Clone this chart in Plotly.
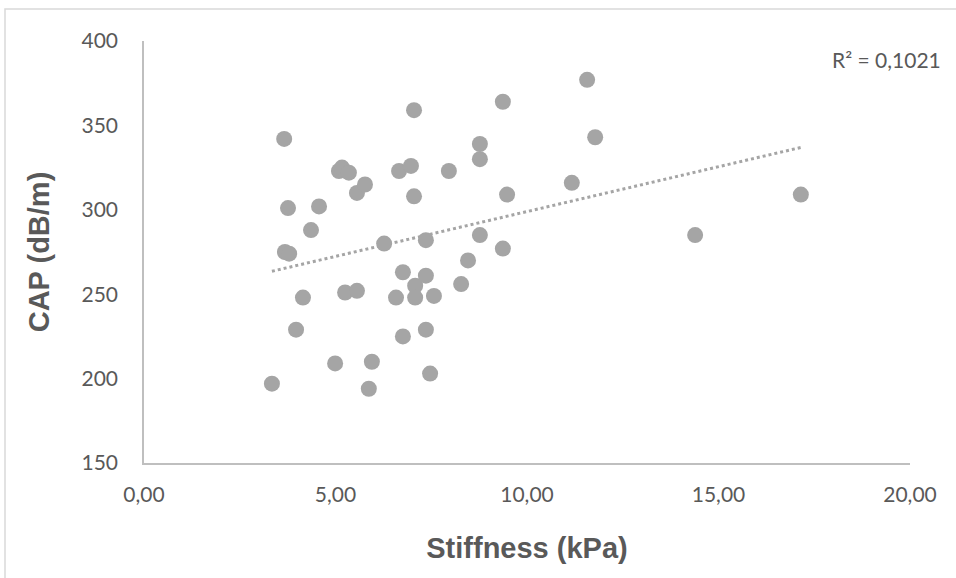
import numpy as np
import plotly.graph_objects as go

stiffness = [3.34, 3.66, 3.68, 3.79, 3.76, 4.15, 3.97, 4.36, 4.57, 4.99,
             5.09, 5.17, 5.35, 5.25, 5.56, 5.56, 5.77, 5.87, 5.95, 6.27,
             6.58, 6.66, 6.76, 6.76, 6.97, 7.05, 7.05, 7.08, 7.08, 7.36,
             7.36, 7.36, 7.47, 7.57, 7.96, 8.28, 8.46, 8.77, 8.77, 8.77,
             9.37, 9.37, 9.48, 11.17, 11.57, 11.78, 14.39, 17.15]
cap = [197, 342, 275, 274, 301, 248, 229, 288, 302, 209,
       323, 325, 322, 251, 252, 310, 315, 194, 210, 280,
       248, 323, 263, 225, 326, 359, 308, 255, 248, 282,
       261, 229, 203, 249, 323, 256, 270, 339, 330, 285,
       364, 277, 309, 316, 377, 343, 285, 309]
r2_label = "R² = 0,1021"
x_title = "Stiffness (kPa)"
y_title = "CAP (dB/m)"

x = np.array(stiffness)
y = np.array(cap)
slope, intercept = np.polyfit(x, y, 1)
xt = np.array([x.min(), x.max()])
yt = slope * xt + intercept

grey = "#A5A5A5"
txt = "#595959"

fig = go.Figure()
fig.add_trace(go.Scatter(x=xt, y=yt, mode="lines",
                         line=dict(color=grey, width=3, dash="dot"),
                         hoverinfo="skip"))
fig.add_trace(go.Scatter(x=stiffness, y=cap, mode="markers",
                         marker=dict(color=grey, size=16, line=dict(width=0))))

W, H = 956, 578
L, R, T, B = 144, 910, 41, 463
fig.update_layout(
    width=W, height=H,
    margin=dict(l=L, r=W - R, t=T, b=H - B),
    paper_bgcolor="white", plot_bgcolor="white",
    showlegend=False,
    separators=", ",
    font=dict(family="Lato, Open Sans, sans-serif", size=21, color=txt),
)
title_font = dict(family="Liberation Sans, Arial", size=29, color=txt, weight="bold")
fig.update_xaxes(range=[0, 20], tickvals=[0, 5, 10, 15, 20], tickformat=".2f",
                 showgrid=False, zeroline=False, showline=True,
                 linecolor="#BFBFBF", linewidth=1.5, ticks="",
                 ticklabelstandoff=12,
                 title=dict(text=x_title, standoff=33, font=title_font))
fig.update_yaxes(range=[150, 400], tickvals=[150, 200, 250, 300, 350, 400],
                 showgrid=False, zeroline=False, showline=True,
                 linecolor="#BFBFBF", linewidth=1.5, ticks="",
                 ticklabelstandoff=20,
                 title=dict(text=y_title, standoff=23, font=title_font))

pw, ph = R - L, B - T
fig.add_shape(type="rect", xref="paper", yref="paper",
              x0=(5 - L) / pw, x1=(W + 20 - L) / pw,
              y0=(B - (H + 20)) / ph, y1=(B - 9) / ph,
              line=dict(color="#D9D9D9", width=1.5), fillcolor="rgba(0,0,0,0)",
              layer="below")
fig.add_annotation(text=r2_label, xref="paper", yref="paper",
                   x=(943 - L) / pw, y=(B - 60) / ph, xanchor="right",
                   yanchor="middle", showarrow=False,
                   font=dict(family="Lato, Open Sans, sans-serif", size=21, color=txt))

fig.write_html("out.html", config={"displayModeBar": False},
               post_script="document.body.style.margin='0';document.body.style.overflow='hidden';")
